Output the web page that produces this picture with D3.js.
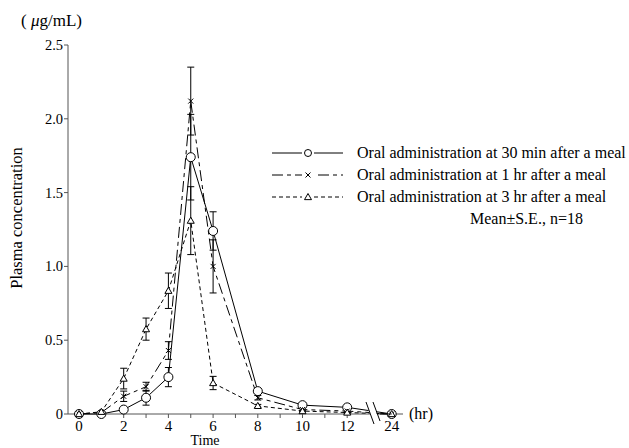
<!DOCTYPE html>
<html><head><meta charset="utf-8">
<script src="https://cdn.jsdelivr.net/npm/d3@7"></script>
<style>body{margin:0;background:#fff}svg{display:block}text{font-family:"Liberation Serif","Times New Roman",serif;fill:#000}</style>
</head><body>
<svg id="c" width="629" height="448"></svg>
<script>
const times = [0,1,2,3,4,5,6,8,10,12,24];
const xTickLabels = [0,2,4,6,8,10,12,24];
const yTicks = [0,0.5,1.0,1.5,2.0,2.5];
const s30min = [0,0,0.03,0.11,0.25,1.74,1.24,0.155,0.06,0.045,0];
const s30minErr = [0,0,0.01,0.05,0.065,0.29,0.13,0.015,0.01,0.01,0];
const s1hr = [0,0.01,0.12,0.185,0.43,2.12,1.00,0.11,0.03,0.02,0];
const s1hrErr = [0,0,0.035,0.03,0.06,0.23,0.18,0.015,0.01,0.01,0];
const s3hr = [0,0.015,0.24,0.575,0.835,1.31,0.21,0.055,0.02,0.01,0];
const s3hrErr = [0,0,0.07,0.075,0.12,0.23,0.045,0.01,0.005,0.005,0];
const legendLabels = ["Oral administration at 30 min after a meal","Oral administration at 1 hr after a meal","Oral administration at 3 hr after a meal"];

const svg = d3.select("#c");
const x = d3.scaleLinear().domain([0,12,24]).range([79,347.2,391.7]);
const y = d3.scaleLinear().domain([0,2.5]).range([414,45]);
const axisX0 = 68, axisX1 = 403;

const series = [
  {v:s30min, e:s30minErr, dash:null, marker:"circle"},
  {v:s1hr, e:s1hrErr, dash:"11,4,4,4", marker:"x"},
  {v:s3hr, e:s3hrErr, dash:"4,3", marker:"tri"}
];

// axes
const g = svg.append("g");
g.append("line").attr("x1",axisX0).attr("x2",axisX0).attr("y1",y(0)).attr("y2",y(2.5)).attr("stroke","#555");
g.append("line").attr("x1",axisX0).attr("x2",axisX1).attr("y1",y(0)).attr("y2",y(0)).attr("stroke","#555");
yTicks.forEach(t=>{
  g.append("line").attr("x1",axisX0-4).attr("x2",axisX0).attr("y1",y(t)).attr("y2",y(t)).attr("stroke","#555");
  g.append("text").attr("x",axisX0-5).attr("y",y(t)+5).attr("text-anchor","end").attr("font-size",14.5).text(t===0?"0":t.toFixed(1));
});
d3.range(1,13).forEach(t=>{
  g.append("line").attr("x1",x(t)).attr("x2",x(t)).attr("y1",y(0)).attr("y2",y(0)+4).attr("stroke","#555");
});
xTickLabels.forEach(t=>{
  g.append("text").attr("x",x(t)).attr("y",431).attr("text-anchor","middle").attr("font-size",15).text(t);
});
g.append("text").attr("x",409).attr("y",419).attr("font-size",16).text("(hr)");
g.append("text").attr("x",205).attr("y",445).attr("text-anchor","middle").attr("font-size",14).text("Time");
g.append("text").attr("transform","translate(22,218) rotate(-90)").attr("text-anchor","middle").attr("font-size",16.5).text("Plasma concentration");
const ut = g.append("text").attr("x",21).attr("y",26).attr("font-size",17);
ut.append("tspan").text("( ");
ut.append("tspan").attr("font-style","italic").text("μ");
ut.append("tspan").text("g/mL)");

// lines
const line = d3.line().x((d,i)=>x(times[i])).y(d=>y(d));
series.forEach(s=>{
  svg.append("path").attr("d",line(s.v)).attr("fill","none").attr("stroke","#000").attr("stroke-width",1)
    .attr("stroke-dasharray",s.dash);
});
// error bars
series.forEach(s=>{
  s.v.forEach((v,i)=>{
    const e = s.e[i]; if(!e) return;
    const cx = x(times[i]);
    svg.append("line").attr("x1",cx).attr("x2",cx).attr("y1",y(v-e)).attr("y2",y(v+e)).attr("stroke","#000");
    [v-e,v+e].forEach(w=>svg.append("line").attr("x1",cx-3.5).attr("x2",cx+3.5).attr("y1",y(w)).attr("y2",y(w)).attr("stroke","#000"));
  });
});
function marker(sel,type,cx,cy,big){
  if(type==="circle"){
    sel.append("circle").attr("cx",cx).attr("cy",cy).attr("r",big?4.5:3.5).attr("fill","#fff").attr("stroke","#000");
  } else if(type==="x"){
    const r=2.5;
    sel.append("path").attr("d",`M${cx-r},${cy-r}L${cx+r},${cy+r}M${cx-r},${cy+r}L${cx+r},${cy-r}`).attr("stroke","#000").attr("fill","none");
  } else {
    const r=3.5;
    sel.append("path").attr("d",`M${cx},${cy-r}L${cx+r},${cy+r*0.75}L${cx-r},${cy+r*0.75}Z`).attr("stroke","#000").attr("fill","#fff");
  }
}
series.forEach(s=>{
  s.v.forEach((v,i)=>marker(svg,s.marker,x(times[i]),y(v),true));
});

// axis break
const bx = 366;
svg.append("path").attr("d",`M${bx},403L${bx+7},423L${bx+14},423L${bx+7},403Z`).attr("fill","#fff");
svg.append("line").attr("x1",bx).attr("y1",402).attr("x2",bx+8).attr("y2",424).attr("stroke","#000");
svg.append("line").attr("x1",bx+7).attr("y1",402).attr("x2",bx+14).attr("y2",421).attr("stroke","#000");
svg.append("line").attr("x1",bx+14).attr("y1",y(0)).attr("x2",x(24)).attr("y2",y(0)).attr("stroke","#000");

// legend
const legY = [153,175,197];
series.forEach((s,i)=>{
  svg.append("line").attr("x1",272).attr("x2",343).attr("y1",legY[i]).attr("y2",legY[i]).attr("stroke","#000").attr("stroke-dasharray",s.dash);
  svg.append("rect").attr("x",302).attr("y",legY[i]-4).attr("width",12).attr("height",8).attr("fill","#fff");
  marker(svg,s.marker,308,legY[i],false);
  svg.append("text").attr("x",357).attr("y",legY[i]+5).attr("font-size",16).text(legendLabels[i]);
});
svg.append("text").attr("x",470).attr("y",224).attr("font-size",16).text("Mean±S.E., n=18");
</script>
</body></html>
